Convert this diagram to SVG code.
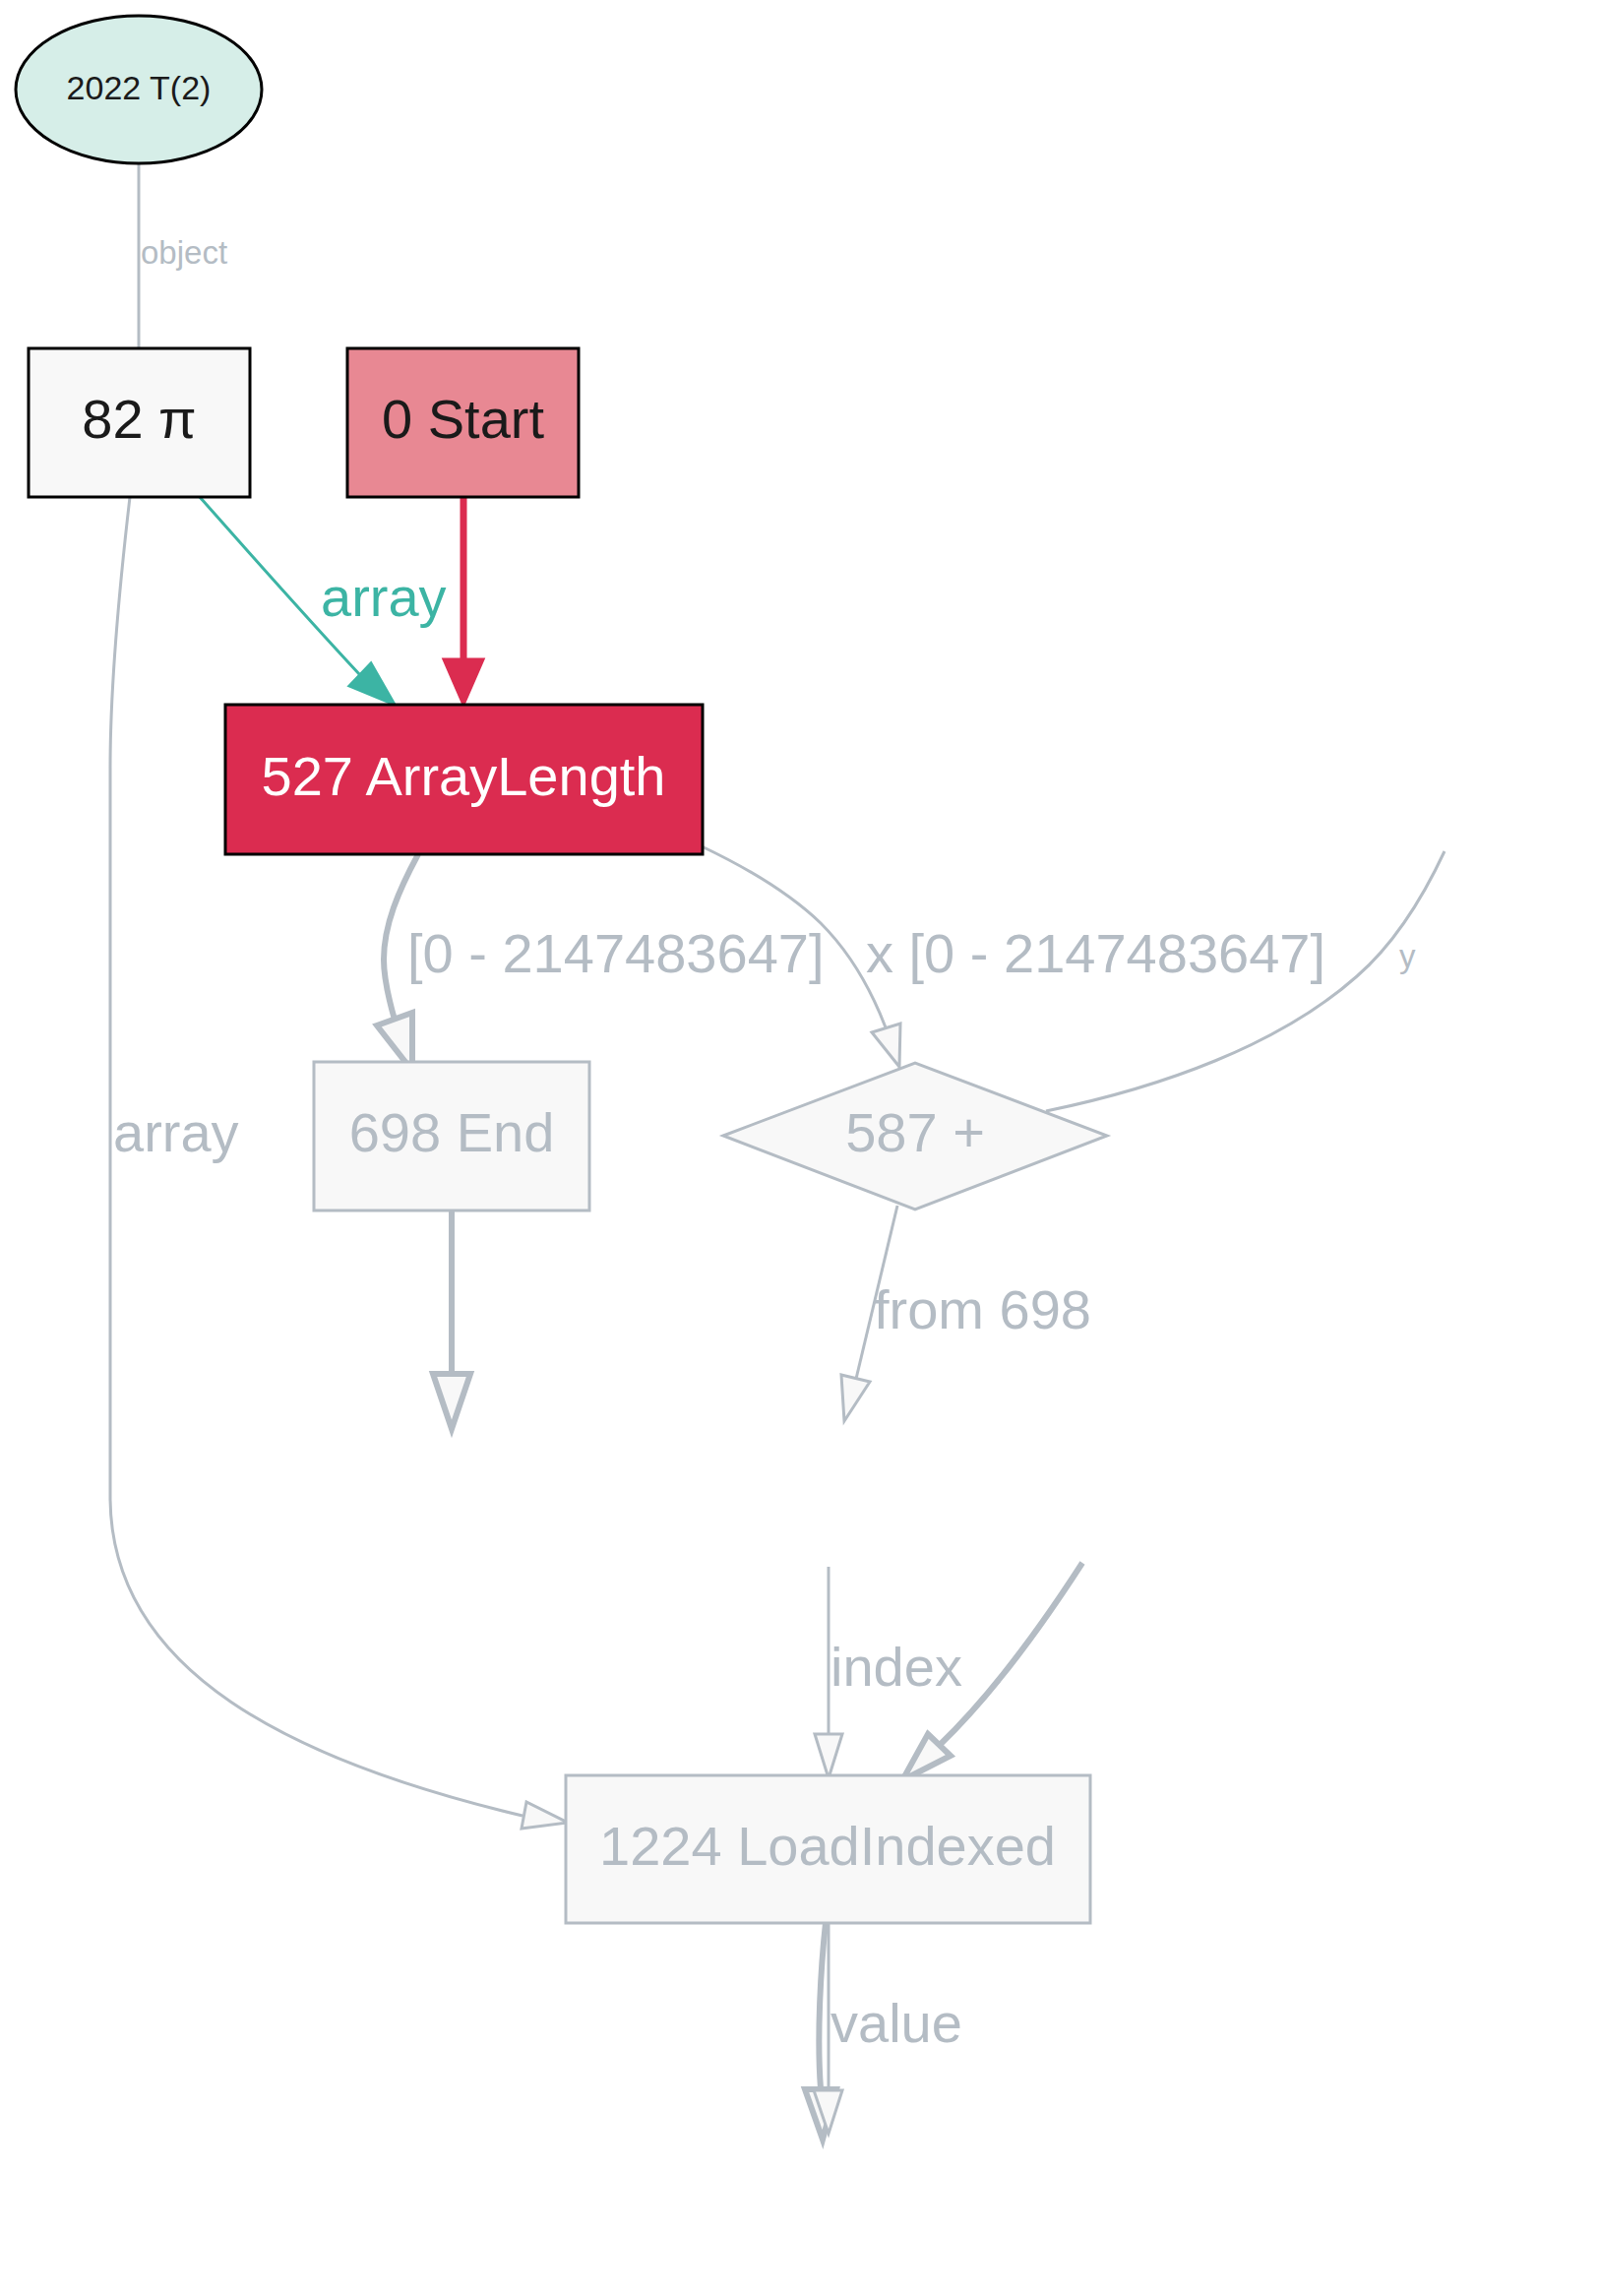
<svg xmlns="http://www.w3.org/2000/svg" width="1625" height="2333" viewBox="0 0 1625 2333">
<style>
text { font-family: "Liberation Sans", Arial, sans-serif; }
.lbl { font-size: 56px; }
.small { font-size: 33px; }
.dark { fill: #1a1a1a; }
.muted { fill: #b4bcc4; }
.node { stroke: #000000; stroke-width: 3; }
.gnode { fill: #f8f8f8; stroke: #b4bcc4; stroke-width: 3; }
.e { fill: none; stroke: #b4bcc4; stroke-width: 3; }
.ek { fill: none; stroke: #b4bcc4; stroke-width: 6; }
.ah { fill: #f8f8f8; stroke: #b4bcc4; stroke-width: 3; }
.ahk { fill: #f8f8f8; stroke: #b4bcc4; stroke-width: 6; }
</style>
<rect width="1625" height="2333" fill="#ffffff"/>
<g id="edges">
  <!-- 2022 -> 82 object -->
  <path class="e" d="M141,166 L141,354"/>
  <text class="small muted" x="143" y="268">object</text>
  <!-- 82 -> 527 array (teal) -->
  <path d="M203,505 C 250,558 300,615 366,686" fill="none" stroke="#3cb4a4" stroke-width="3"/>
  <polygon points="355,697 377,674 401,716" fill="#3cb4a4" stroke="#3cb4a4" stroke-width="3"/>
  <text class="lbl" x="326" y="626" fill="#3cb4a4">array</text>
  <!-- 0 -> 527 red -->
  <path d="M471,505 L471,670" fill="none" stroke="#db2c50" stroke-width="7"/>
  <polygon points="451,670 491,670 471,716" fill="#db2c50" stroke="#db2c50" stroke-width="3"/>
  <!-- 82 -> 1224 array -->
  <path class="e" d="M132,505 C 125,565 112,680 112,780 L112,1521 C 112,1700 300,1790 531,1845"/>
  <polygon class="ah" points="535,1831 530,1858 577,1852"/>
  <text class="lbl muted" x="115" y="1170">array</text>
  <!-- 527 -> 698 -->
  <path class="ek" d="M425,868 C 405,905 390,940 390,975 C 390,995 395,1015 401,1036"/>
  <polygon class="ahk" points="383,1042 419,1029 419,1088"/>
  <text class="lbl muted" x="414" y="988">[0 - 2147483647]</text>
  <!-- 527 -> 587 x -->
  <path class="e" d="M713,860 C 770,887 810,915 834,938 C 862,966 885,1005 900,1044"/>
  <polygon class="ah" points="886,1049 915,1040 914,1084"/>
  <text class="lbl muted" x="880" y="988">x [0 - 2147483647]</text>
  <!-- y edge -->
  <path class="e" d="M1468,865 C 1440,925 1410,965 1379,992 C 1300,1062 1180,1105 1063,1129"/>
  <text class="small muted" x="1422" y="983">y</text>
  <!-- 698 -> down -->
  <path class="ek" d="M459,1230 L459,1396"/>
  <polygon class="ahk" points="440,1396 478,1396 459,1452"/>
  <!-- 587 -> down from 698 -->
  <path class="e" d="M912,1225 L870,1401"/>
  <polygon class="ah" points="855,1397 884,1404 858,1444"/>
  <text class="lbl muted" x="888" y="1350">from 698</text>
  <!-- index -->
  <path class="e" d="M842,1592 L842,1762"/>
  <polygon class="ah" points="828,1762 856,1762 842,1807"/>
  <text class="lbl muted" x="844" y="1713">index</text>
  <!-- thick into 1224 -->
  <path class="ek" d="M1100,1588 C 1060,1650 1010,1720 955,1773"/>
  <polygon class="ahk" points="943,1762 966,1784 917,1809"/>
  <!-- value -->
  <path class="ek" d="M839,1954 C 834,2000 830,2070 834,2122"/>
  <polygon class="ahk" points="818,2123 850,2123 836,2174"/>
  <path class="e" d="M842,1954 L842,2124"/>
  <polygon class="ah" points="827,2124 856,2124 842,2168"/>
  <text class="lbl muted" x="844" y="2075">value</text>
</g>
<g id="node-2022">
  <ellipse cx="141" cy="91" rx="125" ry="75" fill="#d6eee8" class="node"/>
  <text class="dark" x="141" y="101" font-size="34" text-anchor="middle">2022 T(2)</text>
</g>
<g id="node-82">
  <rect x="29" y="354" width="225" height="151" fill="#f8f8f8" class="node"/>
  <text class="lbl dark" x="141.5" y="445" text-anchor="middle">82 π</text>
</g>
<g id="node-0">
  <rect x="353" y="354" width="235" height="151" fill="#e88893" class="node"/>
  <text class="lbl dark" x="470.5" y="445" text-anchor="middle">0 Start</text>
</g>
<g id="node-527">
  <rect x="229" y="716" width="485" height="152" fill="#db2c50" class="node"/>
  <text class="lbl" x="471" y="808" text-anchor="middle" fill="#ffffff">527 ArrayLength</text>
</g>
<g id="node-698">
  <rect x="319" y="1079" width="280" height="151" class="gnode"/>
  <text class="lbl muted" x="459" y="1170" text-anchor="middle">698 End</text>
</g>
<g id="node-587">
  <polygon points="735,1154 930,1080 1125,1154 930,1229" class="gnode"/>
  <text class="lbl muted" x="930" y="1170" text-anchor="middle">587 +</text>
</g>
<g id="node-1224">
  <rect x="575" y="1804" width="533" height="150" class="gnode"/>
  <text class="lbl muted" x="841" y="1895" text-anchor="middle">1224 LoadIndexed</text>
</g>
</svg>
